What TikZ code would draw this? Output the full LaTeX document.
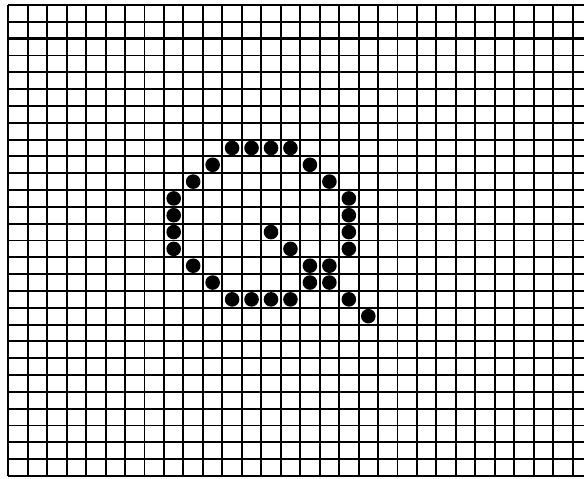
\documentclass[tikz,border=0pt]{standalone}
\begin{document}
\begin{tikzpicture}[x=1pt,y=-1pt,
  gridline/.style={line width=1.9pt,black},
  boldline/.style={line width=3pt,black},
  dot/.style={fill=black}]
\useasboundingbox (0,0) rectangle (584,479);
\fill[white] (0,0) rectangle (584,479);
\def\dx{19.46}
\def\dy{16.82}
\def\ox{8.3}
\def\oy{5}
% vertical lines
\foreach \i in {0,...,29}{
  \draw[gridline] ({\ox+\dx*\i},\oy) -- ({\ox+\dx*\i},{\oy+\dy*28});
}
% horizontal lines
\foreach \j in {0,...,28}{
  \draw[gridline] (\ox,{\oy+\dy*\j}) -- (584,{\oy+\dy*\j});
}
\draw[boldline] (\ox,{\oy+\dy*2}) -- (584,{\oy+\dy*2});
% dots (col,row)
\foreach \c/\r in {11/8,12/8,13/8,14/8,
  10/9,15/9, 9/10,16/10, 8/11,17/11, 8/12,17/12,
  8/13,13/13,17/13, 8/14,14/14,17/14,
  9/15,15/15,16/15, 10/16,15/16,16/16,
  11/17,12/17,13/17,14/17,17/17, 18/18}{
  \fill[dot] ({\ox+\dx*(\c+0.5)},{\oy+\dy*(\r+0.5)}) circle (7.3pt);
}
\end{tikzpicture}
\end{document}
